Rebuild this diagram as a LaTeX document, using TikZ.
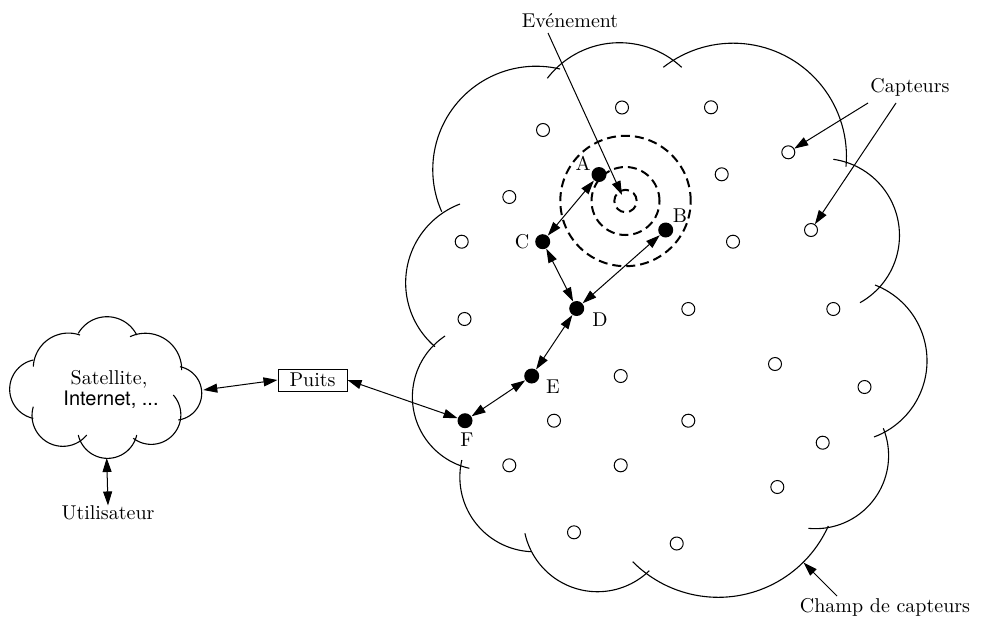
\documentclass[tikz,border=0pt]{standalone}
\usepackage{fontspec}
\newfontfamily\helv{TeX Gyre Heros}
\usetikzlibrary{arrows.meta}
% circular arc through three points (pixel units), drawn as a sampled plot
\newcommand\cloudarc[6]{%
  \pgfmathsetmacro\qxa{#1/100}\pgfmathsetmacro\qya{#2/100}%
  \pgfmathsetmacro\qxb{#3/100}\pgfmathsetmacro\qyb{#4/100}%
  \pgfmathsetmacro\qxc{#5/100}\pgfmathsetmacro\qyc{#6/100}%
  \pgfmathsetmacro\qdd{2*(\qxa*(\qyb-\qyc)+\qxb*(\qyc-\qya)+\qxc*(\qya-\qyb))}%
  \pgfmathsetmacro\qsa{\qxa*\qxa+\qya*\qya}%
  \pgfmathsetmacro\qsb{\qxb*\qxb+\qyb*\qyb}%
  \pgfmathsetmacro\qsc{\qxc*\qxc+\qyc*\qyc}%
  \pgfmathsetmacro\qux{(\qsa*(\qyb-\qyc)+\qsb*(\qyc-\qya)+\qsc*(\qya-\qyb))/\qdd}%
  \pgfmathsetmacro\quy{(\qsa*(\qxc-\qxb)+\qsb*(\qxa-\qxc)+\qsc*(\qxb-\qxa))/\qdd}%
  \pgfmathsetmacro\qrr{veclen(\qxa-\qux,\qya-\quy)}%
  \pgfmathsetmacro\qaa{atan2(\qya-\quy,\qxa-\qux)}%
  \pgfmathsetmacro\qab{atan2(\qyb-\quy,\qxb-\qux)}%
  \pgfmathsetmacro\qac{atan2(\qyc-\quy,\qxc-\qux)}%
  \pgfmathsetmacro\qdth{mod(\qac-\qaa+720,360)}%
  \pgfmathsetmacro\qdtb{mod(\qab-\qaa+720,360)}%
  \pgfmathsetmacro\qae{\qdtb<\qdth ? \qaa+\qdth : \qaa+\qdth-360}%
  \draw[cloudline] plot[domain=\qaa:\qae, samples=50, variable=\qq]
     ({100*(\qux+\qrr*cos(\qq))},{100*(\quy+\qrr*sin(\qq))});%
}
\begin{document}
\begin{tikzpicture}[x=0.5pt,y=-0.5pt,
  every node/.style={font=\fontsize{10}{12}\selectfont},
  sensor/.style={circle,draw,line width=0.5pt,minimum size=6.5pt,inner sep=0pt},
  active/.style={circle,fill,minimum size=7.5pt,inner sep=0pt},
  cloudline/.style={line width=0.55pt},
  link/.style={line width=0.5pt,{Triangle[length=7pt,width=4.5pt]}-{Triangle[length=7pt,width=4.5pt]}},
  ptr/.style={line width=0.5pt,-{Triangle[length=7pt,width=4.5pt]}},
  ring/.style={line width=1pt, dash pattern=on 4.5pt off 2.5pt},
  lbl/.style={inner sep=0pt}
]
\useasboundingbox (0,0) rectangle (983,621);

% ---------- big cloud (sensor field) ----------
\cloudarc{441.7}{211.7}{466.7}{93}{560}{69}
\cloudarc{547.3}{78.3}{620}{42.7}{681.7}{67.3}
\cloudarc{663.3}{67.3}{780}{53.3}{846}{166.7}
\cloudarc{833.3}{159.3}{899.3}{230}{860}{302.7}
\cloudarc{875}{285}{927}{363}{874}{437}
\cloudarc{883.3}{428.3}{880}{490}{808.3}{528.3}
\cloudarc{828.3}{526}{720}{597.3}{632.7}{561.7}
\cloudarc{649.3}{570.7}{596.7}{591.7}{525}{533.3}
\cloudarc{531.7}{551.7}{473.3}{520}{461.7}{460}
\cloudarc{469.3}{468.3}{412.7}{390}{445}{336}
\cloudarc{435}{346.7}{406}{275}{460}{204}

% ---------- small cloud (network) ----------
\cloudarc{33.3}{360}{10}{393.3}{33.3}{418.3}
\cloudarc{33.3}{366.7}{42}{345}{80}{335}
\cloudarc{33.3}{406.7}{46.7}{441.7}{86.7}{435}
\cloudarc{78.3}{435}{106.7}{458.3}{136.7}{435}
\cloudarc{133.3}{438.3}{166.7}{440}{173.3}{395}
\cloudarc{180}{366.7}{201.7}{391.7}{178.3}{420}
\cloudarc{130}{336.7}{165}{339}{181.7}{370}
\cloudarc{78.3}{333.3}{106.7}{316.7}{136.7}{335}

\node[lbl] (sat) at (109,379) {Satellite,};
\node[lbl] (inet) at (111,400) {\helv Internet, ...};
\coordinate (netR) at (203.3,390);
\coordinate (netB) at (106.7,458);
\node[lbl] (user) at (108,513) {Utilisateur};
\node[draw,line width=0.5pt,minimum width=34.5pt,minimum height=11pt,inner sep=0pt] (puits) at (312.5,380) {Puits};

% ---------- sensors ----------
\foreach \i/\x/\y in {1/622/107.5, 2/711/107.3, 3/543/130, 4/509.3/197, 5/461.7/241.7,
  6/721.7/174.3, 7/788.3/152.3, 8/811/230, 9/733/241.7, 10/464.5/319,
  11/688.3/309, 12/833.3/309, 13/620.7/376, 14/775/364, 15/864.5/387,
  16/554/420.7, 17/688.3/420.7, 18/822.7/442.7, 19/509.3/465.3, 20/620.7/465.3,
  21/777.3/487, 22/574/532.3, 23/676.7/543.5}
  \node[sensor] (s\i) at (\x,\y) {};

% ---------- event rings ----------
\coordinate (ev) at (625.5,201);
\draw[ring] (ev) circle[radius=5.6pt];
\draw[ring] (ev) circle[radius=17pt];
\draw[ring] (ev) circle[radius=32.6pt];

% ---------- active nodes ----------
\node[active] (nA) at (599,174.5) {};
\node[active] (nB) at (665.7,230) {};
\node[active] (nC) at (542.7,241.7) {};
\node[active] (nD) at (576.7,308.5) {};
\node[active] (nE) at (531.7,376) {};
\node[active] (nF) at (465,420.7) {};
\node[lbl] (lA) at (583,163) {A};
\node[lbl] (lB) at (680,216) {B};
\node[lbl] (lC) at (522,242) {C};
\node[lbl] (lD) at (600,320) {D};
\node[lbl] (lE) at (553,387) {E};
\node[lbl] (lF) at (467,440) {F};

% ---------- links ----------
\draw[link] (nA) -- (nC);
\draw[link] (nC) -- (nD);
\draw[link] (nB) -- (nD);
\draw[link] (nD) -- (nE);
\draw[link] (nE) -- (nF);
\draw[link] (puits.east) -- (nF);
\draw[link] (netR) -- (puits.west);
\draw[link] (netB) -- (user.north);

% ---------- annotations ----------
\node[lbl] (evt) at (570,21) {Ev\'enement};
\coordinate (evs) at (548,33);
\coordinate (evtip) at (622,195);
\draw[ptr] (evs) -- (evtip);

\node[lbl] (capt) at (910,87) {Capteurs};
\coordinate (c1) at (868,103);
\coordinate (c2) at (896,103);
\draw[ptr] (c1) -- (s7);
\draw[ptr] (c2) -- (s8);

\node[lbl] (champ) at (885,607) {Champ de capteurs};
\coordinate (ch1) at (837,596);
\coordinate (ch2) at (803.5,562.5);
\draw[ptr] (ch1) -- (ch2);
\end{tikzpicture}
\end{document}
